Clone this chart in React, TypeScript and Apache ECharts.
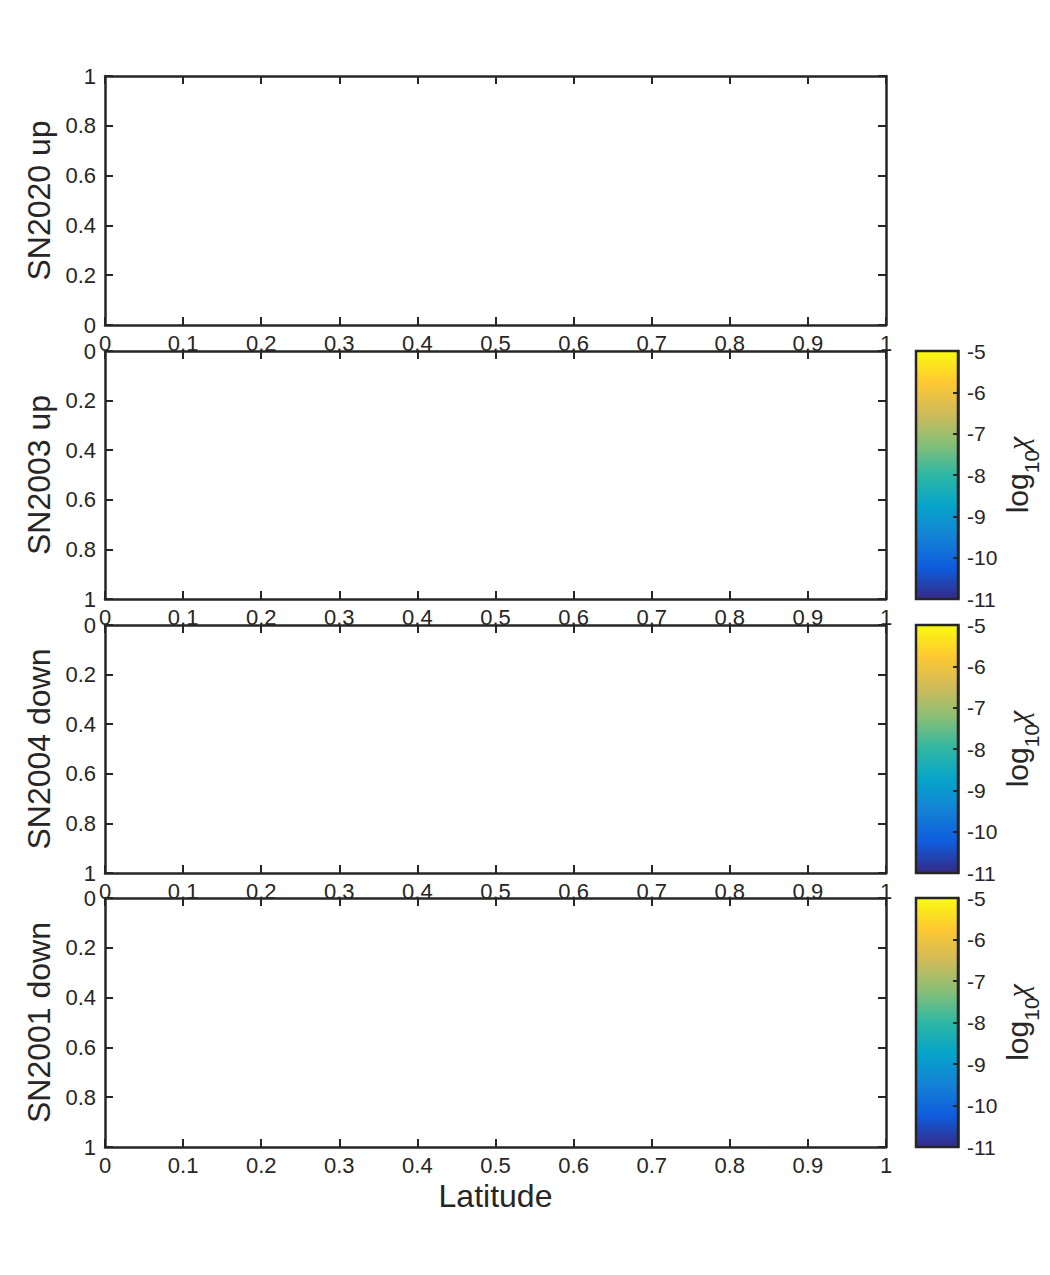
import * as echarts from "echarts";
import React, { useEffect, useRef } from "react";

const panelNames = ["SN2020 up", "SN2003 up", "SN2004 down", "SN2001 down"];
const panelInverse = [false, true, true, true];
const panelHasColorbar = [false, true, true, true];
const latitudeRange = [0, 1];
const latitudeStep = 0.1;
const depthRange = [0, 1];
const depthStep = 0.2;
const colorbarRange = [-11, -5];
const colorbarStep = 1;
// parula, bottom (low) to top (high)
const parulaColors = ["#352a87", "#0f5cdd", "#1481d6", "#06a4ca", "#2eb7a4", "#87bf77", "#d1bb59", "#fec832", "#f9fb0e"];

const AXIS_COLOR = "#262626";
const FONT = "'Liberation Sans', Arial, Helvetica, sans-serif";
const SERIF = "'Liberation Serif', 'DejaVu Serif', serif";
const panelTops = [76, 351, 625, 898];
const panelHeights = [249, 248, 248, 249];
const LEFT = 105;
const RIGHT = 164;
const CBAR_LEFT = 916;
const CBAR_WIDTH = 42;

const App: React.FC = () => {
  const chartRef = useRef<HTMLDivElement | null>(null);

  useEffect(() => {
    document.body.style.margin = "0";
    if (!chartRef.current) return;
    const chart = echarts.init(chartRef.current, undefined, { renderer: "svg" });

    const grids: any[] = [];
    const xAxes: any[] = [];
    const yAxes: any[] = [];
    const series: any[] = [];

    const line = { show: true, onZero: false, lineStyle: { color: AXIS_COLOR, width: 2.5 } };
    const tick = { show: true, inside: true, length: 8, lineStyle: { color: AXIS_COLOR, width: 2 } };

    panelNames.forEach((name, i) => {
      grids.push({ left: LEFT, right: RIGHT, top: panelTops[i], height: panelHeights[i] });
      const last = i === panelNames.length - 1;
      xAxes.push({
        type: "value",
        gridIndex: i,
        position: "bottom",
        min: latitudeRange[0],
        max: latitudeRange[1],
        interval: latitudeStep,
        axisLine: line,
        axisTick: tick,
        splitLine: { show: false },
        axisLabel: { margin: 7, fontSize: 22, color: AXIS_COLOR, fontFamily: FONT },
        name: last ? "Latitude" : "",
        nameLocation: "middle",
        nameGap: 33,
        nameTextStyle: { fontSize: 32, color: AXIS_COLOR, fontFamily: FONT },
      });
      xAxes.push({
        type: "value",
        gridIndex: i,
        position: "top",
        min: latitudeRange[0],
        max: latitudeRange[1],
        interval: latitudeStep,
        axisLine: line,
        axisTick: tick,
        splitLine: { show: false },
        axisLabel: { show: false },
      });
      yAxes.push({
        type: "value",
        gridIndex: i,
        position: "left",
        inverse: panelInverse[i],
        min: depthRange[0],
        max: depthRange[1],
        interval: depthStep,
        axisLine: line,
        axisTick: tick,
        splitLine: { show: false },
        axisLabel: { margin: 9, fontSize: 22, color: AXIS_COLOR, fontFamily: FONT },
        name,
        nameLocation: "middle",
        nameRotate: 90,
        nameGap: 50,
        nameTextStyle: { fontSize: 32, color: AXIS_COLOR, fontFamily: FONT },
      });
      yAxes.push({
        type: "value",
        gridIndex: i,
        position: "right",
        inverse: panelInverse[i],
        min: depthRange[0],
        max: depthRange[1],
        interval: depthStep,
        axisLine: line,
        axisTick: tick,
        splitLine: { show: false },
        axisLabel: { show: false },
      });
    });

    const stops = parulaColors
      .map((c, k) => ({ offset: 1 - k / (parulaColors.length - 1), color: c }))
      .reverse();

    panelHasColorbar.forEach((has, i) => {
      if (!has) return;
      const g = grids.length;
      grids.push({ left: CBAR_LEFT, width: CBAR_WIDTH, top: panelTops[i], height: panelHeights[i] });
      xAxes.push({ type: "value", gridIndex: g, min: 0, max: 1, show: false });
      yAxes.push({
        type: "value",
        gridIndex: g,
        position: "right",
        z: 10,
        min: colorbarRange[0],
        max: colorbarRange[1],
        interval: colorbarStep,
        axisLine: line,
        axisTick: { show: true, inside: true, length: 5, lineStyle: { color: AXIS_COLOR, width: 2 } },
        splitLine: { show: false },
        axisLabel: { margin: 9, fontSize: 21, color: AXIS_COLOR, fontFamily: FONT },
        name: "{a|log}{b|10}{c|χ}",
        nameLocation: "middle",
        nameRotate: 90,
        nameGap: 34,
        nameTextStyle: {
          color: AXIS_COLOR,
          fontFamily: FONT,
          rich: {
            a: { fontSize: 30, lineHeight: 50, verticalAlign: "middle", color: AXIS_COLOR, fontFamily: FONT },
            b: { fontSize: 21, lineHeight: 21, verticalAlign: "bottom", color: AXIS_COLOR, fontFamily: FONT },
            c: {
              fontSize: 30,
              lineHeight: 50,
              verticalAlign: "middle",
              fontStyle: "italic",
              color: AXIS_COLOR,
              fontFamily: SERIF,
            },
          },
        },
      });
      series.push({
        type: "custom",
        xAxisIndex: xAxes.length - 1,
        yAxisIndex: yAxes.length - 1,
        encode: { x: [0, 2], y: [1, 3] },
        data: [[0, colorbarRange[0], 1, colorbarRange[1]]],
        renderItem: (_params: any, api: any) => {
          const p0 = api.coord([api.value(0), api.value(3)]);
          const p1 = api.coord([api.value(2), api.value(1)]);
          return {
            type: "rect",
            shape: { x: p0[0], y: p0[1], width: p1[0] - p0[0], height: p1[1] - p0[1] },
            style: {
              fill: new echarts.graphic.LinearGradient(0, 0, 0, 1, stops),
              stroke: AXIS_COLOR,
              lineWidth: 2.5,
            },
          };
        },
      });
    });

    chart.setOption({
      animation: false,
      backgroundColor: "#ffffff",
      textStyle: { fontFamily: FONT },
      grid: grids,
      xAxis: xAxes,
      yAxis: yAxes,
      series,
    });

    const handleResize = () => chart.resize();
    window.addEventListener("resize", handleResize);
    return () => {
      window.removeEventListener("resize", handleResize);
      chart.dispose();
    };
  }, []);

  return <div ref={chartRef} style={{ width: "1050px", height: "1275px" }} />;
};

export default App;
